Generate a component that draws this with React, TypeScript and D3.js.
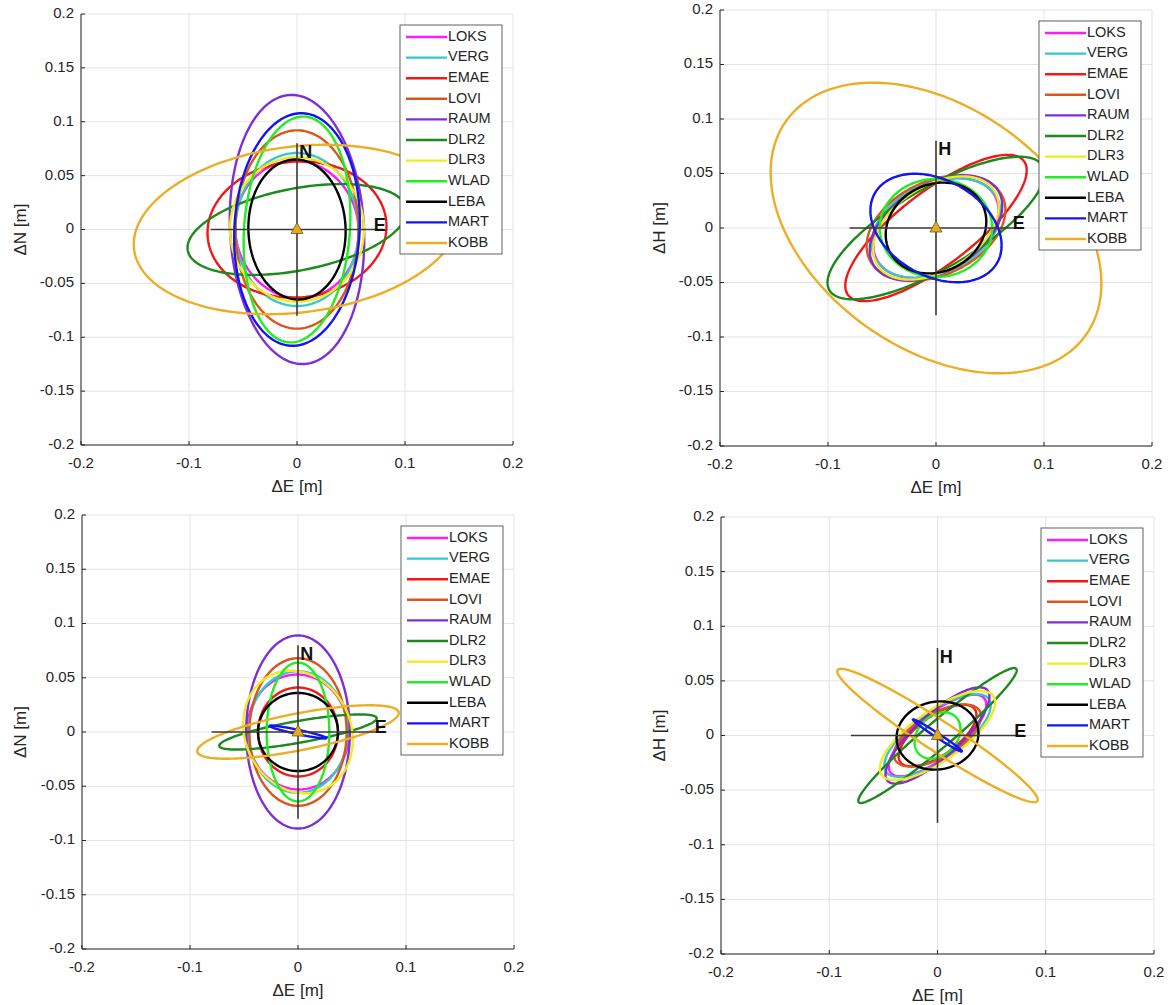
import React from 'react';
import * as d3 from 'd3';

// ---------- data ----------
const stations = ['LOKS', 'VERG', 'EMAE', 'LOVI', 'RAUM', 'DLR2', 'DLR3', 'WLAD', 'LEBA', 'MART', 'KOBB'];
const stationColors = ['#ff19ff', '#33c9cc', '#f01818', '#d9561e', '#7f2fd4', '#1c8a1c', '#f0ea1e', '#22ec22', '#000000', '#1414f0', '#ecae26'];

const axisTicks = [-0.2, -0.1, 0, 0.1, 0.2];
const gridTicks = [-0.2, -0.15, -0.1, -0.05, 0, 0.05, 0.1, 0.15, 0.2];
const yTickLabels = ['-0.2', '-0.15', '-0.1', '-0.05', '0', '0.05', '0.1', '0.15', '0.2'];
const xTickLabels = ['-0.2', '-0.1', '0', '0.1', '0.2'];
const crossHalf = 0.08;

// panel 1: ΔE / ΔN (first solution)
const p1Major = [0.064, 0.071, 0.083, 0.092, 0.125, 0.103, 0.067, 0.105, 0.065, 0.108, 0.152];
const p1Minor = [0.057, 0.057, 0.063, 0.057, 0.062, 0.038, 0.062, 0.049, 0.045, 0.058, 0.077];
const p1Angle = [100, 90, 5, 90, 93, 11, 90, 86, 92, 87, 7];

// panel 2: ΔE / ΔH (first solution)
const p2Major = [0.062, 0.063, 0.102, 0.068, 0.067, 0.114, 0.064, 0.052, 0.048, 0.065, 0.170];
const p2Minor = [0.040, 0.041, 0.034, 0.043, 0.040, 0.037, 0.039, 0.045, 0.040, 0.044, 0.111];
const p2Angle = [28, 25, 37, 25, 30, 30, 32, 0, 26, -29, -35];

// panel 3: ΔE / ΔN (second solution)
const p3Major = [0.053, 0.056, 0.041, 0.068, 0.089, 0.074, 0.058, 0.064, 0.037, 0.027, 0.095];
const p3Minor = [0.047, 0.046, 0.037, 0.045, 0.048, 0.010, 0.049, 0.029, 0.036, 0.002, 0.017];
const p3Angle = [95, 90, 90, 90, 90, 10, 115, 90, 0, -12, 11];

// panel 4: ΔE / ΔH (second solution)
const p4Major = [0.055, 0.058, 0.042, 0.045, 0.062, 0.095, 0.063, 0.024, 0.038, 0.027, 0.110];
const p4Minor = [0.020, 0.022, 0.018, 0.020, 0.020, 0.012, 0.023, 0.018, 0.031, 0.002, 0.014];
const p4Angle = [38, 35, 35, 30, 42, 40, 35, 45, 10, -33, -33];

const panels = [
  { L: 81, T: 14, R: 513, B: 445, yName: 'N', major: p1Major, minor: p1Minor, angle: p1Angle, yl: 22 },
  { L: 720, T: 10, R: 1152, B: 446, yName: 'H', major: p2Major, minor: p2Minor, angle: p2Angle, yl: 661 },
  { L: 82, T: 515, R: 514, B: 949, yName: 'N', major: p3Major, minor: p3Minor, angle: p3Angle, yl: 22 },
  { L: 721, T: 517, R: 1154, B: 954, yName: 'H', major: p4Major, minor: p4Minor, angle: p4Angle, yl: 661 },
];

const FONT = '"Liberation Sans", Arial, Helvetica, sans-serif';
const TXT = '#262626';

function ellipsePoints(a: number, b: number, deg: number) {
  const th = (deg * Math.PI) / 180;
  const pts: [number, number][] = [];
  const n = 200;
  for (let i = 0; i <= n; i++) {
    const t = (i / n) * 2 * Math.PI;
    const ex = a * Math.cos(t), ey = b * Math.sin(t);
    pts.push([ex * Math.cos(th) - ey * Math.sin(th), ex * Math.sin(th) + ey * Math.cos(th)]);
  }
  return pts;
}

function Panel({ p }: { p: any }) {
  const x = d3.scaleLinear().domain([-0.2, 0.2]).range([p.L, p.R]);
  const y = d3.scaleLinear().domain([-0.2, 0.2]).range([p.B, p.T]);
  const line = d3.line<[number, number]>().x(d => x(d[0])).y(d => y(d[1]));
  const legW = 102, legH = 229;
  const legX = p.R - 11 - legW, legY = p.T + 11;
  const rowH = 20.6;
  const tri = 6;
  return (
    <g>
      {/* grid */}
      {axisTicks.map(t => (
        <line key={'gx' + t} x1={x(t)} x2={x(t)} y1={p.T} y2={p.B} stroke="#e3e3e3" strokeWidth={1} />
      ))}
      {gridTicks.map(t => (
        <line key={'gy' + t} x1={p.L} x2={p.R} y1={y(t)} y2={y(t)} stroke="#e3e3e3" strokeWidth={1} />
      ))}
      {/* ellipses */}
      {stations.map((s, i) => (
        <path key={s} d={line(ellipsePoints(p.major[i], p.minor[i], p.angle[i])) || ''} fill="none" stroke={stationColors[i]} strokeWidth={2.4} />
      ))}
      {/* crosshair */}
      <line x1={x(-crossHalf)} x2={x(crossHalf)} y1={y(0)} y2={y(0)} stroke="#3a3a3a" strokeWidth={1.6} />
      <line x1={x(0)} x2={x(0)} y1={y(-crossHalf)} y2={y(crossHalf)} stroke="#3a3a3a" strokeWidth={1.6} />
      <text x={x(0.002)} y={y(0.071)} fontFamily={FONT} fontWeight="bold" fontSize={18} fill="#111" dominantBaseline="middle">{p.yName}</text>
      <text x={x(0.071)} y={y(0.003)} fontFamily={FONT} fontWeight="bold" fontSize={18} fill="#111" dominantBaseline="middle">E</text>
      <path d={`M${x(0)},${y(0) - tri - 1}L${x(0) + tri},${y(0) + tri - 2}L${x(0) - tri},${y(0) + tri - 2}Z`} fill="#e3a926" stroke="#6b5a1a" strokeWidth={0.8} />
      {/* axes */}
      <line x1={p.L} x2={p.L} y1={p.T} y2={p.B} stroke={TXT} strokeWidth={1} />
      <line x1={p.L} x2={p.R} y1={p.B} y2={p.B} stroke={TXT} strokeWidth={1} />
      {axisTicks.map(t => (
        <line key={'tx' + t} x1={x(t)} x2={x(t)} y1={p.B} y2={p.B - 4} stroke={TXT} strokeWidth={1} />
      ))}
      {gridTicks.map(t => (
        <line key={'ty' + t} x1={p.L} x2={p.L + 4} y1={y(t)} y2={y(t)} stroke={TXT} strokeWidth={1} />
      ))}
      {xTickLabels.map((lab, i) => (
        <text key={'lx' + lab} x={x(axisTicks[i])} y={p.B + 19} fontFamily={FONT} fontSize={15} fill={TXT} textAnchor="middle" dominantBaseline="middle">{lab}</text>
      ))}
      {yTickLabels.map((lab, i) => (
        <text key={'ly' + lab} x={p.L - 7} y={y(gridTicks[i])} fontFamily={FONT} fontSize={15} fill={TXT} textAnchor="end" dominantBaseline="middle">{lab}</text>
      ))}
      <text x={(p.L + p.R) / 2} y={p.B + 43} fontFamily={FONT} fontSize={17} fill={TXT} textAnchor="middle" dominantBaseline="middle">ΔE [m]</text>
      <text transform={`translate(${p.yl},${(p.T + p.B) / 2}) rotate(-90)`} fontFamily={FONT} fontSize={17} fill={TXT} textAnchor="middle" dominantBaseline="middle">{'Δ' + p.yName + ' [m]'}</text>
      {/* legend */}
      <rect x={legX} y={legY} width={legW} height={legH} fill="#ffffff" stroke="#3a3a3a" strokeWidth={0.8} />
      {stations.map((s, i) => {
        const cy = legY + 12 + i * rowH;
        return (
          <g key={'leg' + s}>
            <line x1={legX + 6} x2={legX + 47} y1={cy} y2={cy} stroke={stationColors[i]} strokeWidth={2.4} />
            <text x={legX + 48} y={cy} fontFamily={FONT} fontSize={14.5} fill={TXT} dominantBaseline="middle">{s}</text>
          </g>
        );
      })}
    </g>
  );
}

export default function App() {
  return (
    <svg width={1171} height={1005} style={{ position: 'absolute', left: 0, top: 0, background: '#ffffff' }}>
      <rect x={0} y={0} width={1171} height={1005} fill="#ffffff" />
      {panels.map((p, i) => (
        <Panel key={i} p={p} />
      ))}
    </svg>
  );
}
